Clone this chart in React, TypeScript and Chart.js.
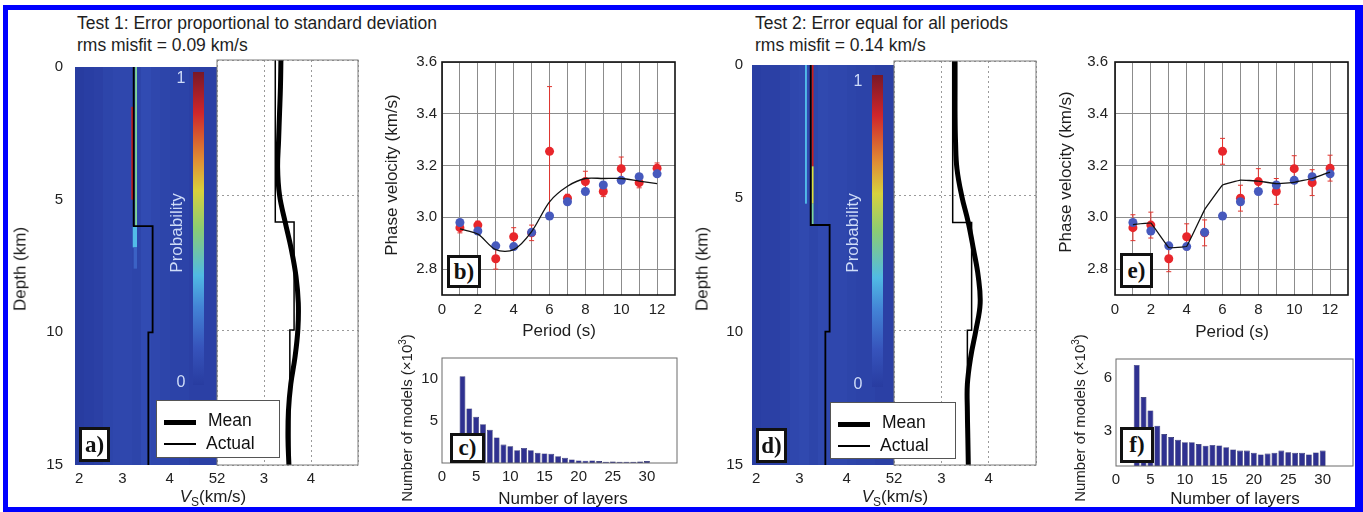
import React, { useEffect, useRef } from "react";
import { Chart, registerables } from "chart.js";
Chart.register(...registerables);

// ---------------- DATA ----------------
const periods = [1, 2, 3, 4, 5, 6, 7, 8, 9, 10, 11, 12];
const periodTicks = [0, 1, 2, 3, 4, 5, 6, 7, 8, 9, 10, 11, 12];
const observedVelocity = [2.96, 2.97, 2.84, 2.925, 2.94, 3.255, 3.074, 3.138, 3.1, 3.188, 3.134, 3.19];
const actualModelVelocity = [2.98, 2.947, 2.89, 2.887, 2.942, 3.005, 3.06, 3.1, 3.125, 3.143, 3.157, 3.168];
const errorTest1 = [0.02, 0.015, 0.04, 0.035, 0.03, 0.25, 0.015, 0.04, 0.02, 0.045, 0.02, 0.02];
const errorTest2 = [0.05, 0.05, 0.05, 0.05, 0.05, 0.05, 0.05, 0.05, 0.05, 0.05, 0.05, 0.05];
const meanModelVelocityTest1 = [2.955, 2.935, 2.875, 2.875, 2.945, 3.06, 3.12, 3.15, 3.15, 3.15, 3.14, 3.13];
const meanModelVelocityTest2 = [2.972, 2.978, 2.883, 2.888, 3.03, 3.125, 3.144, 3.14, 3.13, 3.135, 3.15, 3.175];

const layerCounts = [3, 4, 5, 6, 7, 8, 9, 10, 11, 12, 13, 14, 15, 16, 17, 18, 19, 20, 21, 22, 23, 24, 25, 26, 27, 28, 29, 30];
const modelsTest1 = [10.34, 6.5, 5.5, 4.62, 3.95, 3.05, 2.19, 1.99, 1.52, 1.8, 1.52, 1.21, 1.13, 1.09, 0.81, 0.62, 0.42, 0.31, 0.27, 0.31, 0.23, 0.15, 0.19, 0.15, 0.15, 0.15, 0.19, 0.23];
const modelsTest2 = [6.76, 4.93, 4.17, 3.3, 2.82, 2.65, 2.49, 2.36, 2.36, 2.25, 2.16, 2.2, 2.17, 2.07, 1.94, 1.88, 1.88, 1.75, 1.66, 1.71, 1.75, 1.88, 1.78, 1.75, 1.75, 1.66, 1.77, 1.88];

const profileDepths = [0, 1, 2, 3, 4, 5, 6, 7, 8, 9, 10, 11, 12, 13, 14, 15];
const meanVsTest1 = [3.36, 3.35, 3.33, 3.31, 3.29, 3.33, 3.45, 3.58, 3.68, 3.73, 3.72, 3.66, 3.57, 3.52, 3.51, 3.53];
const meanVsTest2 = [3.29, 3.29, 3.29, 3.3, 3.33, 3.43, 3.57, 3.68, 3.78, 3.82, 3.73, 3.62, 3.55, 3.55, 3.56, 3.57];

const actualLayerTop = [0, 6, 10];
const actualLayerBottom = [6, 10, 15];
const actualLayerVs = [3.24, 3.64, 3.55];

// probability heat map: faint background per Vs bin, plus bright streaks
const bgBinLo = [2.0, 2.2, 2.4, 2.6, 2.8, 3.0, 3.2, 3.4, 3.6, 3.8, 4.0, 4.2, 4.4, 4.6, 4.8];
const bgBinHi = [2.2, 2.4, 2.6, 2.8, 3.0, 3.2, 3.4, 3.6, 3.8, 4.0, 4.2, 4.4, 4.6, 4.8, 5.0];
const bgProbTest1 = [0.0, 0.01, 0.02, 0.04, 0.05, 0.05, 0.04, 0.07, 0.05, 0.04, 0.03, 0.03, 0.02, 0.02, 0.02];
const bgProbTest2 = [0.01, 0.02, 0.02, 0.03, 0.05, 0.06, 0.04, 0.06, 0.05, 0.05, 0.04, 0.03, 0.03, 0.02, 0.02];

const streakVsLoTest1 = [3.27, 3.19, 3.22, 3.24];
const streakVsHiTest1 = [3.31, 3.23, 3.31, 3.31];
const streakTopTest1 = [0, 1.5, 6.0, 6.8];
const streakBottomTest1 = [6, 5.0, 6.8, 7.6];
const streakProbTest1 = [0.45, 0.9, 0.33, 0.15];

const streakVsLoTest2 = [3.12, 3.26, 3.26, 3.26];
const streakVsHiTest2 = [3.16, 3.3, 3.3, 3.3];
const streakTopTest2 = [0, 0, 3.8, 5.2];
const streakBottomTest2 = [5.2, 3.8, 5.2, 6.0];
const streakProbTest2 = [0.33, 0.9, 0.6, 0.45];

// ---------------- STYLE HELPERS ----------------
const FONT = '"Liberation Sans", Arial, Helvetica, sans-serif';
const PAD = 14;

const jetStops: [number, number[]][] = [
  [0, [40, 60, 160]],
  [0.12, [56, 86, 190]],
  [0.25, [70, 140, 220]],
  [0.35, [85, 200, 235]],
  [0.5, [150, 220, 110]],
  [0.62, [235, 225, 50]],
  [0.72, [245, 150, 40]],
  [0.87, [225, 35, 30]],
  [1, [130, 20, 25]],
];
function jet(p: number): string {
  for (let i = 1; i < jetStops.length; i++) {
    const [p1, c1] = jetStops[i];
    const [p0, c0] = jetStops[i - 1];
    if (p <= p1) {
      const t = (p - p0) / (p1 - p0);
      const c = c0.map((v, k) => Math.round(v + (c1[k] - v) * t));
      return `rgb(${c[0]},${c[1]},${c[2]})`;
    }
  }
  const c = jetStops[jetStops.length - 1][1];
  return `rgb(${c[0]},${c[1]},${c[2]})`;
}

type Area = { x1: number; y1: number; x2: number; y2: number };

const tickFont = { family: FONT, size: 15 };

function fixedTicks(values: number[]) {
  return (s: any) => {
    s.ticks = values.map((v) => ({ value: v }));
  };
}

function framePlugin(color: string, width: number) {
  return {
    id: "frame",
    afterDraw(chart: any) {
      const { ctx, chartArea: a } = chart;
      ctx.save();
      ctx.strokeStyle = color;
      ctx.lineWidth = width;
      ctx.strokeRect(a.left, a.top, a.right - a.left, a.bottom - a.top);
      ctx.restore();
    },
  };
}

function heatPlugin(bgProb: number[], lo: number[], hi: number[], top: number[], bottom: number[], prob: number[]) {
  return {
    id: "heat",
    beforeDatasetsDraw(chart: any) {
      const { ctx, chartArea: a, scales } = chart;
      const x = scales.x;
      const y = scales.y;
      ctx.save();
      ctx.beginPath();
      ctx.rect(a.left, a.top, a.right - a.left, a.bottom - a.top);
      ctx.clip();
      ctx.fillStyle = jet(0);
      ctx.fillRect(a.left, a.top, a.right - a.left, a.bottom - a.top);
      bgBinLo.forEach((v, i) => {
        const x0 = Math.round(x.getPixelForValue(v));
        const x1 = Math.round(x.getPixelForValue(bgBinHi[i]));
        ctx.fillStyle = jet(bgProb[i]);
        ctx.fillRect(x0, a.top, x1 - x0, a.bottom - a.top);
      });
      lo.forEach((v, i) => {
        const x0 = x.getPixelForValue(v);
        const x1 = x.getPixelForValue(hi[i]);
        const y0 = y.getPixelForValue(top[i]);
        const y1 = y.getPixelForValue(bottom[i]);
        ctx.fillStyle = jet(prob[i]);
        ctx.fillRect(x0, y0, x1 - x0, y1 - y0);
      });
      ctx.restore();
    },
  };
}

function errorBarPlugin(values: number[], errors: number[]) {
  return {
    id: "errbars",
    beforeDatasetsDraw(chart: any) {
      const { ctx, scales } = chart;
      const x = scales.x;
      const y = scales.y;
      ctx.save();
      ctx.strokeStyle = "#e0352f";
      ctx.lineWidth = 1;
      periods.forEach((p, i) => {
        const px = x.getPixelForValue(p);
        const yTop = y.getPixelForValue(values[i] + errors[i]);
        const yBot = y.getPixelForValue(values[i] - errors[i]);
        ctx.beginPath();
        ctx.moveTo(px, yTop);
        ctx.lineTo(px, yBot);
        ctx.moveTo(px - 2.5, yTop);
        ctx.lineTo(px + 2.5, yTop);
        ctx.moveTo(px - 2.5, yBot);
        ctx.lineTo(px + 2.5, yBot);
        ctx.stroke();
      });
      ctx.restore();
    },
  };
}

function Plot({ area, axisW, axisH, build }: { area: Area; axisW: number; axisH: number; build: () => any }) {
  const ref = useRef<HTMLCanvasElement | null>(null);
  const left = area.x1 - axisW - PAD;
  const top = area.y1 - PAD;
  const width = area.x2 - area.x1 + axisW + 2 * PAD;
  const height = area.y2 - area.y1 + axisH + 2 * PAD;
  useEffect(() => {
    if (!ref.current) return;
    const cfg = build();
    cfg.options.animation = false;
    cfg.options.responsive = false;
    cfg.options.events = [];
    cfg.options.layout = { padding: PAD };
    cfg.options.plugins = { legend: { display: false }, tooltip: { enabled: false }, ...(cfg.options.plugins || {}) };
    cfg.options.scales.x.afterFit = (s: any) => {
      s.height = axisH;
    };
    cfg.options.scales.y.afterFit = (s: any) => {
      s.width = axisW;
    };
    const chart = new Chart(ref.current, cfg);
    return () => chart.destroy();
  }, []);
  return (
    <canvas
      ref={ref}
      width={width}
      height={height}
      style={{ position: "absolute", left, top, width, height }}
    />
  );
}

// ---------------- CHART BUILDERS ----------------
function stepPoints() {
  const steps: { x: number; y: number }[] = [];
  actualLayerVs.forEach((v, i) => {
    steps.push({ x: v, y: actualLayerTop[i] });
    steps.push({ x: v, y: actualLayerBottom[i] });
  });
  return steps;
}

function heatConfig(bgProb: number[], lo: number[], hi: number[], top: number[], bottom: number[], prob: number[], yPad: number) {
  return {
    type: "scatter",
    data: {
      datasets: [
        { data: stepPoints(), showLine: true, borderColor: "#000", borderWidth: 1.8, pointRadius: 0, fill: false },
      ],
    },
    options: {
      scales: {
        x: {
          type: "linear",
          min: 2,
          max: 5,
          afterBuildTicks: fixedTicks([2, 3, 4, 5]),
          grid: { display: false, drawTicks: false },
          border: { display: false },
          ticks: { font: tickFont, color: "#222", padding: 5, align: "inner", maxRotation: 0 },
        },
        y: {
          type: "linear",
          min: 0,
          max: 15,
          reverse: true,
          afterBuildTicks: fixedTicks([0, 5, 10, 15]),
          grid: { display: false, drawTicks: false },
          border: { display: false },
          ticks: { font: tickFont, color: "#222", padding: yPad },
        },
      },
    },
    plugins: [heatPlugin(bgProb, lo, hi, top, bottom, prob)],
  };
}

function meanConfig(meanVs: number[]) {
  const meanPts = profileDepths.map((d, i) => ({ x: meanVs[i], y: d }));
  return {
    type: "scatter",
    data: {
      datasets: [
        { data: meanPts, showLine: true, borderColor: "#000", borderWidth: 5, pointRadius: 0, tension: 0.4, fill: false },
        { data: stepPoints(), showLine: true, borderColor: "#000", borderWidth: 1.5, pointRadius: 0, fill: false },
      ],
    },
    options: {
      scales: {
        x: {
          type: "linear",
          min: 2,
          max: 5,
          afterBuildTicks: fixedTicks([2, 3, 4, 5]),
          grid: { color: "#9a9a9a", lineWidth: 1, drawTicks: false },
          border: { display: false, dash: [2, 3] },
          ticks: {
            font: tickFont,
            color: "#222",
            padding: 5,
            align: "inner",
            maxRotation: 0,
            callback: (v: number) => (v === 5 ? "" : String(v)),
          },
        },
        y: {
          type: "linear",
          min: 0,
          max: 15,
          reverse: true,
          afterBuildTicks: fixedTicks([0, 5, 10, 15]),
          grid: { color: "#9a9a9a", lineWidth: 1, drawTicks: false },
          border: { display: false, dash: [2, 3] },
          ticks: { display: false },
        },
      },
    },
    plugins: [framePlugin("#7a7a7a", 1)],
  };
}

function dispersionConfig(meanVel: number[], errors: number[], yPad: number, tension: number) {
  return {
    type: "scatter",
    data: {
      datasets: [
        {
          data: periods.map((p, i) => ({ x: p, y: meanVel[i] })),
          showLine: true,
          borderColor: "#111",
          borderWidth: 1.3,
          pointRadius: 0,
          tension,
          fill: false,
        },
        {
          data: periods.map((p, i) => ({ x: p, y: actualModelVelocity[i] })),
          pointRadius: 4.5,
          pointBackgroundColor: "#4659bd",
          pointBorderWidth: 0,
          showLine: false,
        },
        {
          data: periods.map((p, i) => ({ x: p, y: observedVelocity[i] })),
          pointRadius: 4.5,
          pointBackgroundColor: "#e8262b",
          pointBorderWidth: 0,
          showLine: false,
        },
      ],
    },
    options: {
      scales: {
        x: {
          type: "linear",
          min: 0,
          max: 13,
          afterBuildTicks: fixedTicks(periodTicks),
          grid: { color: "#8c8c8c", lineWidth: 1, drawTicks: false },
          border: { display: false },
          ticks: {
            font: tickFont,
            color: "#222",
            padding: 6,
            autoSkip: false,
            maxRotation: 0,
            callback: (v: number) => (v % 2 === 0 ? String(v) : ""),
          },
        },
        y: {
          type: "linear",
          min: 2.7,
          max: 3.6,
          afterBuildTicks: fixedTicks([2.8, 3.0, 3.2, 3.4, 3.6]),
          grid: { color: "#8c8c8c", lineWidth: 1, drawTicks: false },
          border: { display: false },
          ticks: { font: tickFont, color: "#222", padding: yPad, callback: (v: number) => v.toFixed(1) },
        },
      },
    },
    plugins: [errorBarPlugin(observedVelocity, errors), framePlugin("#111", 1.6)],
  };
}

function histConfig(counts: number[], yMin: number, yMax: number, yTicks: number[], yLabels: number[]) {
  return {
    type: "bar",
    data: {
      datasets: [
        {
          data: layerCounts.map((n, i) => ({ x: n, y: counts[i] })),
          backgroundColor: "#2f3190",
          borderColor: "#1d1f5e",
          borderWidth: 0.6,
          barPercentage: 0.85,
          categoryPercentage: 1,
        },
      ],
    },
    options: {
      scales: {
        x: {
          type: "linear",
          min: 0,
          max: 34.4,
          offset: false,
          afterBuildTicks: fixedTicks([0, 5, 10, 15, 20, 25, 30]),
          grid: { display: false, drawTicks: false },
          border: { display: false },
          ticks: { font: tickFont, color: "#222", padding: 5, maxRotation: 0, autoSkip: false },
        },
        y: {
          type: "linear",
          min: yMin,
          max: yMax,
          afterBuildTicks: fixedTicks(yTicks),
          grid: { display: false, drawTicks: false },
          border: { display: false },
          ticks: {
            font: tickFont,
            color: "#222",
            padding: 4,
            autoSkip: false,
            callback: (v: number) => (yLabels.includes(v) ? String(v) : ""),
          },
        },
      },
    },
    plugins: [framePlugin("#6a6a6a", 1)],
  };
}

// ---------------- LAYOUT (pixels) ----------------
const layout = {
  t1: {
    heat: { x1: 75, y1: 60, x2: 217, y2: 465 },
    mean: { x1: 217, y1: 60, x2: 358, y2: 465 },
    disp: { x1: 442, y1: 62, x2: 675, y2: 295 },
    hist: { x1: 442, y1: 358, x2: 677, y2: 463 },
  },
  t2: {
    heat: { x1: 752, y1: 61, x2: 894, y2: 465 },
    mean: { x1: 894, y1: 61, x2: 1036, y2: 465 },
    disp: { x1: 1115, y1: 60, x2: 1348, y2: 295 },
    hist: { x1: 1116, y1: 359, x2: 1353, y2: 466 },
  },
};

function Text({ x, y, children, size = 17, rotate = false, color = "#1e1e1e", anchor = "center" }: any) {
  const tx = anchor === "left" ? "0" : "-50%";
  return (
    <div
      style={{
        position: "absolute",
        left: x,
        top: y,
        transform: `translate(${tx},-50%)${rotate ? " rotate(-90deg)" : ""}`,
        whiteSpace: "nowrap",
        font: `${size}px ${FONT}`,
        color,
        lineHeight: 1,
      }}
    >
      {children}
    </div>
  );
}

function Tag({ x1, y1, x2, y2, label }: any) {
  return (
    <div
      style={{
        position: "absolute",
        left: x1,
        top: y1,
        width: x2 - x1,
        height: y2 - y1,
        boxSizing: "border-box",
        border: "3px solid #111",
        background: "#fff",
        display: "flex",
        alignItems: "center",
        justifyContent: "center",
        font: 'bold 23px "Liberation Serif", "Times New Roman", serif',
        color: "#111",
      }}
    >
      {label}
    </div>
  );
}

function Legend({ x1, y1, x2, y2 }: any) {
  return (
    <div
      style={{
        position: "absolute",
        left: x1,
        top: y1,
        width: x2 - x1,
        height: y2 - y1,
        boxSizing: "border-box",
        border: "1px solid #555",
        background: "#fff",
      }}
    >
      <div style={{ position: "absolute", left: 7, top: 19, width: 32, height: 5, background: "#000" }} />
      <div style={{ position: "absolute", left: 7, top: 42, width: 32, height: 1.5, background: "#000" }} />
      <div style={{ position: "absolute", left: 51, top: 11, font: `17.5px ${FONT}`, color: "#111", lineHeight: 1 }}>Mean</div>
      <div style={{ position: "absolute", left: 49, top: 34, font: `17.5px ${FONT}`, color: "#111", lineHeight: 1 }}>Actual</div>
    </div>
  );
}

const colorbarGradient = `linear-gradient(to top, ${jetStops
  .map(([p, c]) => `rgb(${c[0]},${c[1]},${c[2]}) ${Math.round(p * 100)}%`)
  .join(", ")})`;

function Colorbar({ x1, y1, x2, y2, lx, ptx }: any) {
  return (
    <>
      <div style={{ position: "absolute", left: x1, top: y1, width: x2 - x1, height: y2 - y1, background: colorbarGradient, opacity: 0.9 }} />
      <Text x={lx} y={y1 + 6} color="#cfdcf8" size={16}>1</Text>
      <Text x={lx} y={y2 - 3} color="#cfdcf8" size={16}>0</Text>
      <Text x={ptx} y={233} rotate color="#cfdcf8" size={17}>Probability</Text>
    </>
  );
}

function VsLabel({ x }: any) {
  return (
    <Text x={x} y={498} size={17}>
      <span style={{ fontStyle: "italic" }}>V</span>
      <sub style={{ fontSize: 12 }}>S</sub>(km/s)
    </Text>
  );
}

export default function App() {
  const t1 = layout.t1;
  const t2 = layout.t2;
  return (
    <div style={{ position: "absolute", left: 0, top: 0, width: 1363, height: 512, background: "#fff", overflow: "hidden" }}>
      {/* blue frame */}
      <div
        style={{
          position: "absolute",
          left: 3,
          top: 5,
          width: 1360,
          height: 507,
          boxSizing: "border-box",
          borderStyle: "solid",
          borderColor: "#0000ff",
          borderWidth: "5px 8px 5px 5px",
        }}
      />

      {/* ---------- Test 1 ---------- */}
      <div style={{ position: "absolute", left: 77, top: 12, font: `17.5px ${FONT}`, lineHeight: "22px", color: "#1e1e1e", whiteSpace: "nowrap" }}>
        Test 1: Error proportional to standard deviation
        <br />
        rms misfit = 0.09 km/s
      </div>
      <Plot area={t1.heat} axisW={40} axisH={28} build={() => heatConfig(bgProbTest1, streakVsLoTest1, streakVsHiTest1, streakTopTest1, streakBottomTest1, streakProbTest1, 12)} />
      <Plot area={t1.mean} axisW={0} axisH={28} build={() => meanConfig(meanVsTest1)} />
      <Plot area={t1.disp} axisW={40} axisH={28} build={() => dispersionConfig(meanModelVelocityTest1, errorTest1, 5, 0.3)} />
      <Plot area={t1.hist} axisW={30} axisH={28} build={() => histConfig(modelsTest1, 0, 12.5, [2.5, 5, 7.5, 10], [5, 10])} />
      <Colorbar x1={193} y1={72} x2={204} y2={385} lx={181} ptx={176} />
      <Legend x1={156} y1={400} x2={280} y2={458} />
      <Tag x1={79} y1={427} x2={110} y2={462} label="a)" />
      <Tag x1={447} y1={255} x2={481} y2={288} label="b)" />
      <Tag x1={450} y1={433} x2={485} y2={463} label="c)" />
      <Text x={20} y={269} rotate>Depth (km)</Text>
      <VsLabel x={213} />
      <Text x={391} y={175} rotate>Phase velocity (km/s)</Text>
      <Text x={559} y={330}>Period (s)</Text>
      <Text x={406} y={418} rotate size={15}>
        Number of models (×10<sup style={{ fontSize: 10 }}>3</sup>)
      </Text>
      <Text x={563} y={498}>Number of layers</Text>

      {/* ---------- Test 2 ---------- */}
      <div style={{ position: "absolute", left: 755, top: 12, font: `17.5px ${FONT}`, lineHeight: "22px", color: "#1e1e1e", whiteSpace: "nowrap" }}>
        Test 2: Error equal for all periods
        <br />
        rms misfit = 0.14 km/s
      </div>
      <Plot area={t2.heat} axisW={40} axisH={28} build={() => heatConfig(bgProbTest2, streakVsLoTest2, streakVsHiTest2, streakTopTest2, streakBottomTest2, streakProbTest2, 9)} />
      <Plot area={t2.mean} axisW={0} axisH={28} build={() => meanConfig(meanVsTest2)} />
      <Plot area={t2.disp} axisW={40} axisH={28} build={() => dispersionConfig(meanModelVelocityTest2, errorTest2, 7, 0.05)} />
      <Plot area={t2.hist} axisW={30} axisH={28} build={() => histConfig(modelsTest2, 1, 7.1, [2, 3, 4, 5, 6], [3, 6])} />
      <Colorbar x1={872} y1={75} x2={883} y2={387} lx={858} ptx={852} />
      <Legend x1={830} y1={402} x2={956} y2={459} />
      <Tag x1={756} y1={428} x2={787} y2={463} label="d)" />
      <Tag x1={1120} y1={253} x2={1153} y2={288} label="e)" />
      <Tag x1={1120} y1={427} x2={1154} y2={463} label="f)" />
      <Text x={702} y={269} rotate>Depth (km)</Text>
      <VsLabel x={895} />
      <Text x={1065} y={172} rotate>Phase velocity (km/s)</Text>
      <Text x={1232} y={331}>Period (s)</Text>
      <Text x={1079} y={418} rotate size={15}>
        Number of models (×10<sup style={{ fontSize: 10 }}>3</sup>)
      </Text>
      <Text x={1235} y={498}>Number of layers</Text>
    </div>
  );
}
